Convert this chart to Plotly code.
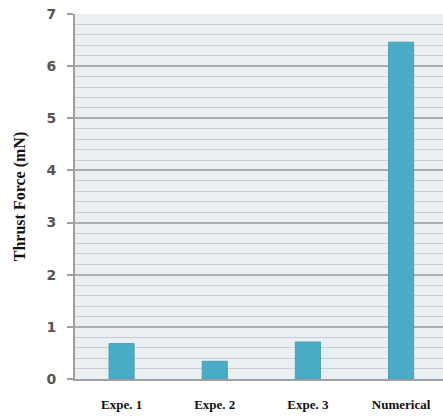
import plotly.graph_objects as go

categories = ["Expe. 1", "Expe. 2", "Expe. 3", "Numerical"]
thrust_force = [0.68, 0.34, 0.71, 6.46]
y_ticks = [0, 1, 2, 3, 4, 5, 6, 7]

fig = go.Figure()
fig.add_trace(go.Bar(
    x=categories, y=thrust_force,
    marker=dict(color="#4bacc6", line=dict(color="#3f96ad", width=0.8)),
    width=0.27,
))

fig.update_layout(
    width=443, height=416,
    margin=dict(l=75, r=0, t=14, b=37),
    paper_bgcolor="white",
    plot_bgcolor="#e9eff3",
    showlegend=False,
    bargap=0.73,
)
fig.update_xaxes(
    range=[-0.5, 3.45],
    automargin=False,
    showgrid=False,
    showline=True, linecolor="#a0a0a0", linewidth=2,
    ticks="",
    tickfont=dict(family="Liberation Serif", size=13, color="#111111", weight="bold"),
    ticklabelstandoff=12,
)
fig.update_yaxes(
    range=[0, 7],
    automargin=False,
    tickvals=y_ticks,
    showgrid=True, gridcolor="#a8aeb2", gridwidth=1.5,
    minor=dict(dtick=0.2, showgrid=True, gridcolor="#c9cfd3", gridwidth=1),
    showline=True, linecolor="#a0a0a0", linewidth=2,
    ticks="outside", ticklen=6, tickcolor="#a0a0a0", tickwidth=1.5,
    tickfont=dict(family="DejaVu Sans", size=14, color="#555555", weight="bold"),
    ticklabelstandoff=8,
    zeroline=False,
    title=dict(text="Thrust Force (mN)",
               font=dict(family="Liberation Serif", size=16, color="#111111", weight="bold"),
               standoff=17),
)

fig.write_html("out.html", config={"displayModeBar": False})

with open("out.html", "r", encoding="utf-8") as f:
    html = f.read()
html = html.replace("<head>", "<head><style>html,body{margin:0;padding:0;overflow:hidden;}</style>", 1)
with open("out.html", "w", encoding="utf-8") as f:
    f.write(html)
